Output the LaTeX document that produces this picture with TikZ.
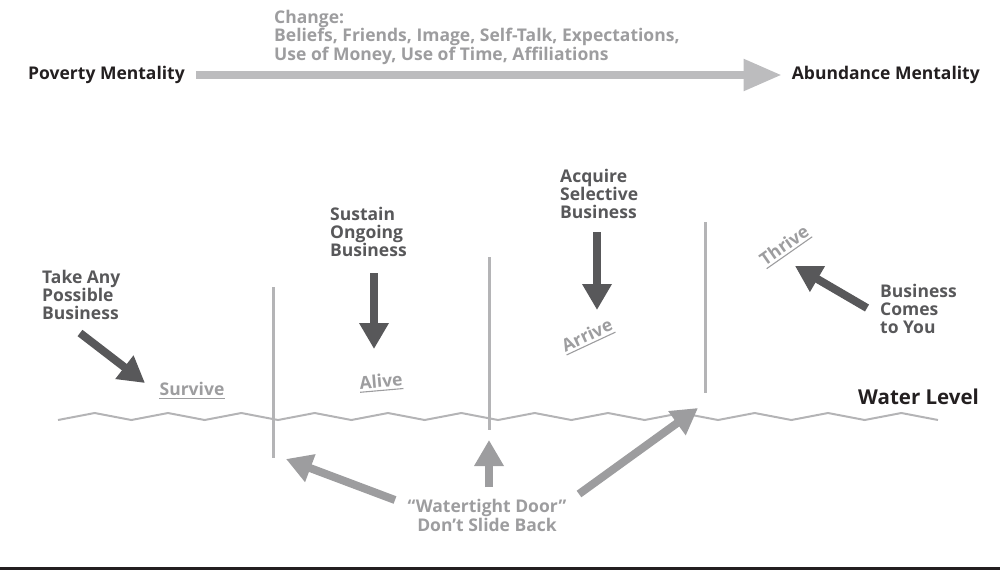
\documentclass[tikz,border=0pt]{standalone}
\usepackage{fontspec}
\setmainfont{Open Sans}
\usetikzlibrary{arrows.meta}
\definecolor{dark}{HTML}{58585A}
\definecolor{lgray}{HTML}{9D9D9F}
\definecolor{lline}{HTML}{B4B4B6}
\definecolor{toparr}{HTML}{BCBCBE}
\definecolor{ink}{HTML}{231F20}
\begin{document}
\begin{tikzpicture}[x=1pt,y=-1pt,
  font=\bfseries\fontsize{17.5}{18}\selectfont,
  lab/.style={align=left, text=dark, inner sep=0, anchor=west},
  stage/.style={text=lgray, inner xsep=0, inner ysep=2.5pt},
  uline/.style={draw=lgray, line width=1.1pt},
  darrow/.style={draw=dark, line width=8pt, -{Triangle[width=28pt,length=26pt]}},
  garrow/.style={draw=lgray, line width=8pt, -{Triangle[width=28pt,length=26pt]}},
  door/.style={draw=lline, line width=3pt},
  water/.style={draw=lline, line width=2pt, line join=miter},
]
\useasboundingbox (0,0) rectangle (1000,570);
% top
\node[inner sep=0, anchor=west, text=ink] (pov) at (28,75) {Poverty Mentality};
\node[inner sep=0, anchor=east, text=ink] (abund) at (980,75) {Abundance Mentality};
\draw[draw=toparr, line width=8pt, -{Triangle[width=30pt,length=38pt]}, shorten <=11pt, shorten >=10pt] (pov.east) -- (abund.west);
\node[inner sep=0, anchor=west, align=left, text=lgray, font=\bfseries\fontsize{17.5}{18.5}\selectfont] (chg) at (274,37)
 {Change:\\Beliefs, Friends, Image, Self-Talk, Expectations,\\Use of Money, Use of Time, Affiliations};

% labels
\node[lab] (take) at (42,295) {Take Any\\Possible\\Business};
\node[lab] (sust) at (330,232) {Sustain\\Ongoing\\Business};
\node[lab] (acq) at (560,194) {Acquire\\Selective\\Business};
\node[lab] (comes) at (880,309) {Business\\Comes\\to You};
\node[inner sep=0, anchor=west, text=ink, font=\bfseries\fontsize{20.5}{22}\selectfont] (wl) at (858,397) {Water Level};

% stages
\node[stage] (survive) at (192,389) {Survive};
\node[stage, rotate=5] (alive) at (381,381) {Alive};
\node[stage, rotate=25] (arrive) at (587,335) {Arrive};
\node[stage, rotate=35] (thrive) at (784,245) {Thrive};
\draw[uline] (survive.south west) -- (survive.south east);
\draw[uline] (alive.south west) -- (alive.south east);
\draw[uline] (arrive.south west) -- (arrive.south east);
\draw[uline] (thrive.south west) -- (thrive.south east);

% water
\draw[water] (58,420) \foreach \i in {1,...,24}{ -- ({58+36.667*\i},{420-7*mod(\i,2)}) };

% doors
\coordinate (d1t) at (273,287); \coordinate (d1b) at (273,458);
\coordinate (d2t) at (489,257); \coordinate (d2b) at (489,430);
\coordinate (d3t) at (705,222); \coordinate (d3b) at (705,393);
\draw[door] (d1t) -- (d1b);
\draw[door] (d2t) -- (d2b);
\draw[door] (d3t) -- (d3b);

% dark arrows
\coordinate (a1s) at (80,333); \coordinate (a1e) at (145,383);
\coordinate (a2s) at (374,273); \coordinate (a2e) at (374,349);
\coordinate (a3s) at (597,232); \coordinate (a3e) at (597,310);
\coordinate (a4s) at (867,308); \coordinate (a4e) at (795,266);
\draw[darrow] (a1s) -- (a1e);
\draw[darrow] (a2s) -- (a2e);
\draw[darrow] (a3s) -- (a3e);
\draw[darrow] (a4s) -- (a4e);

% watertight door
\node[inner sep=0, align=center, text=lgray, font=\bfseries\fontsize{17.5}{19}\selectfont] (wt) at (487,515) {``Watertight Door''\\Don't Slide Back};
\coordinate (g1s) at (395,500); \coordinate (g1e) at (286,459);
\coordinate (g2s) at (489,487); \coordinate (g2e) at (489,440);
\coordinate (g3s) at (579,494); \coordinate (g3e) at (698,408);
\draw[garrow] (g1s) -- (g1e);
\draw[garrow] (g2s) -- (g2e);
\draw[garrow] (g3s) -- (g3e);

% bottom rule
\coordinate (bl) at (0,568.5); \coordinate (br) at (1000,568.5);
\draw[draw=ink, line width=3pt] (bl) -- (br);
\end{tikzpicture}
\end{document}
